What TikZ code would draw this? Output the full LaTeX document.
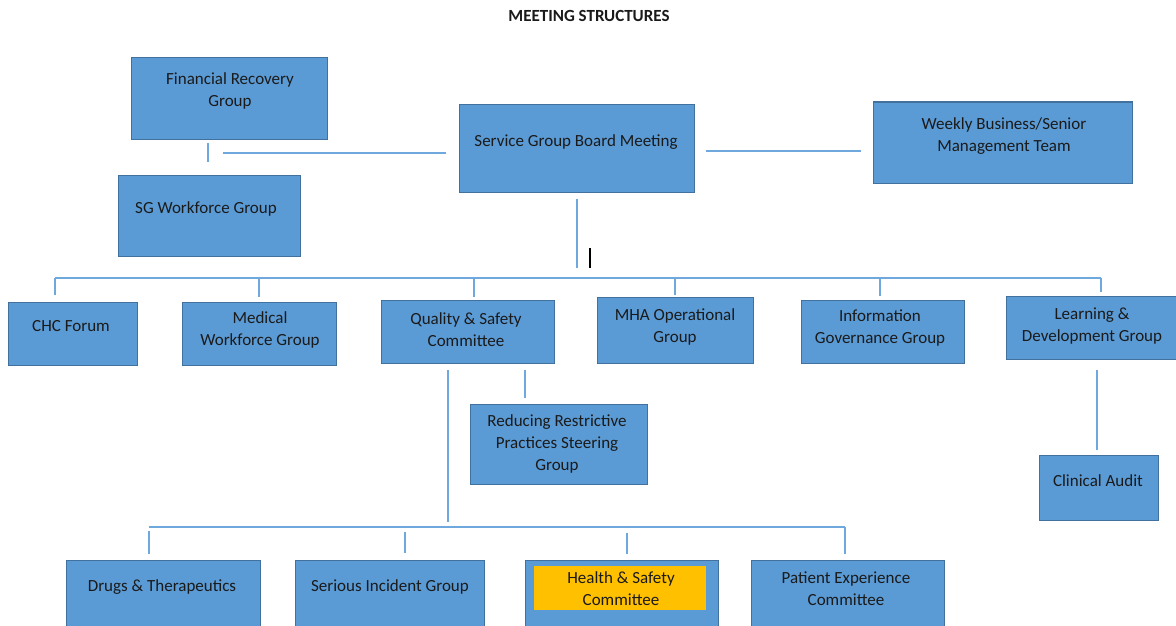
\documentclass[tikz,border=0pt]{standalone}
\usepackage{fontspec}
\setmainfont{Carlito}
\usetikzlibrary{calc}
\definecolor{boxfill}{HTML}{5B9BD5}
\definecolor{boxline}{HTML}{41719C}
\definecolor{connline}{HTML}{6FA8DC}
\definecolor{hsyellow}{HTML}{FFC000}
\definecolor{txtcol}{HTML}{1A1A1A}
\tikzset{
  box/.style={draw=boxline, fill=boxfill, line width=1pt, inner sep=0pt},
  inner/.style={fill=hsyellow, inner sep=0pt},
  txt/.style={text=txtcol, font=\fontsize{17}{22}\selectfont, align=center, inner sep=0pt},
  conn/.style={draw=connline, line width=1.8pt},
  titletxt/.style={text=txtcol, font=\bfseries\fontsize{17}{20}\selectfont, inner sep=0pt}
}
\begin{document}
\begin{tikzpicture}[x=1pt,y=-1pt]
\useasboundingbox (0,0) rectangle (1176,626);
\fill[white] (0,0) rectangle (1176,626);

\node[titletxt] (title) at (589,16) {MEETING STRUCTURES};

% boxes
\node[box, minimum width=196, minimum height=81] (fr) at (229,98.5) {};
\node[txt] (frt) at (230,91) {Financial Recovery\\Group};
\node[box, minimum width=182, minimum height=81] (sgw) at (209,215.5) {};
\node[txt] (sgwt) at (206,209) {SG Workforce Group};
\node[box, minimum width=235, minimum height=88] (sgb) at (577,148) {};
\node[txt] (sgbt) at (576,142) {Service Group Board Meeting};
\node[box, minimum width=259, minimum height=81] (wb) at (1002.5,142.5) {};
\node[txt] (wbt) at (1004,136.5) {Weekly Business/Senior\\Management Team};

\node[box, minimum width=129, minimum height=63] (chc) at (72.5,333.5) {};
\node[txt] (chct) at (71,326) {CHC Forum};
\node[box, minimum width=154, minimum height=63] (mwg) at (259,333.5) {};
\node[txt] (mwgt) at (260,330) {Medical\\Workforce Group};
\node[box, minimum width=173, minimum height=63] (qsc) at (467.5,331.5) {};
\node[txt] (qsct) at (466,330) {Quality \& Safety\\Committee};
\node[box, minimum width=156, minimum height=66] (mha) at (675,330) {};
\node[txt] (mhat) at (675,326.5) {MHA Operational\\Group};
\node[box, minimum width=163, minimum height=63] (igg) at (882.5,331.5) {};
\node[txt] (iggt) at (880,328) {Information\\Governance Group};
\node[box, minimum width=172, minimum height=63] (ldg) at (1092,327.5) {};
\node[txt] (ldgt) at (1092,326.5) {Learning \&\\Development Group};

\node[box, minimum width=177, minimum height=80] (rrp) at (558.5,444) {};
\node[txt] (rrpt) at (557,444) {Reducing Restrictive\\Practices Steering\\Group};
\node[box, minimum width=119, minimum height=65] (ca) at (1098.5,487.5) {};
\node[txt] (cat) at (1098,481) {Clinical Audit};

\node[box, minimum width=194, minimum height=72] (dt) at (163,596) {};
\node[txt] (dtt) at (162,587) {Drugs \& Therapeutics};
\node[box, minimum width=189, minimum height=72] (sig) at (389.5,596) {};
\node[txt] (sigt) at (390,587) {Serious Incident Group};
\node[box, minimum width=193, minimum height=72] (hsc) at (621.5,596) {};
\node[inner, minimum width=172, minimum height=44] (hsi) at (620,588) {};
\node[txt] (hsct) at (621,589) {Health \& Safety\\Committee};
\node[box, minimum width=193, minimum height=72] (pec) at (847.5,596) {};
\node[txt] (pect) at (846,589) {Patient Experience\\Committee};

% connectors - top
\coordinate (frdrop) at (208,143);
\draw[conn, shorten >=13pt] (frdrop) -- (frdrop |- sgw.north);
\coordinate (sideL) at (223,153);
\draw[conn, shorten >=13pt] (sideL) -- (sgb.west |- sideL);
\coordinate (sideR) at (706,151);
\draw[conn, shorten >=12pt] (sideR) -- (wb.west |- sideR);

% main bus
\coordinate (bus1L) at (55,278);
\coordinate (bus1R) at (1101,278);
\draw[conn, shorten <=6pt, shorten >=10pt] (sgb.south) -- (sgb.south |- bus1L);
\draw[conn] (bus1L) -- (bus1R);
\draw[conn, shorten >=7pt] (bus1L) -- (bus1L |- chc.north);
\draw[conn, shorten >=5pt] (bus1L -| mwg.north) -- (mwg.north);
\coordinate (qdrop) at (474,278);
\draw[conn, shorten >=3pt] (qdrop) -- (qdrop |- qsc.north);
\draw[conn, shorten >=2pt] (bus1L -| mha.north) -- (mha.north);
\coordinate (idrop) at (880,278);
\draw[conn, shorten >=4pt] (idrop) -- (idrop |- igg.north);
\draw[conn, shorten >=4pt] (bus1R) -- (bus1R |- ldg.north);

% quality & safety subtree
\coordinate (qr) at (525,363);
\draw[conn, shorten <=7pt, shorten >=6pt] (qr) -- (qr |- rrp.north);
\coordinate (ql) at (448,363);
\coordinate (bus2L) at (149,527);
\coordinate (bus2R) at (845,527);
\draw[conn, shorten <=7pt, shorten >=5pt] (ql) -- (ql |- bus2L);
\draw[conn] (bus2L) -- (bus2R);
\coordinate (d1) at (149,531);
\draw[conn, shorten >=6pt] (d1) -- (d1 |- dt.north);
\coordinate (d2) at (405,532);
\draw[conn, shorten >=7pt] (d2) -- (d2 |- sig.north);
\coordinate (d3) at (627,533);
\draw[conn, shorten >=6pt] (d3) -- (d3 |- hsc.north);
\draw[conn, shorten >=6pt] (bus2R) -- (bus2R |- pec.north);

% learning subtree
\coordinate (lc) at (1097,359);
\draw[conn, shorten <=11pt, shorten >=5pt] (lc) -- (lc |- ca.north);

% stray cursor mark
\draw[black, line width=1.3pt] (590,248) -- (590,268);
\end{tikzpicture}
\end{document}
